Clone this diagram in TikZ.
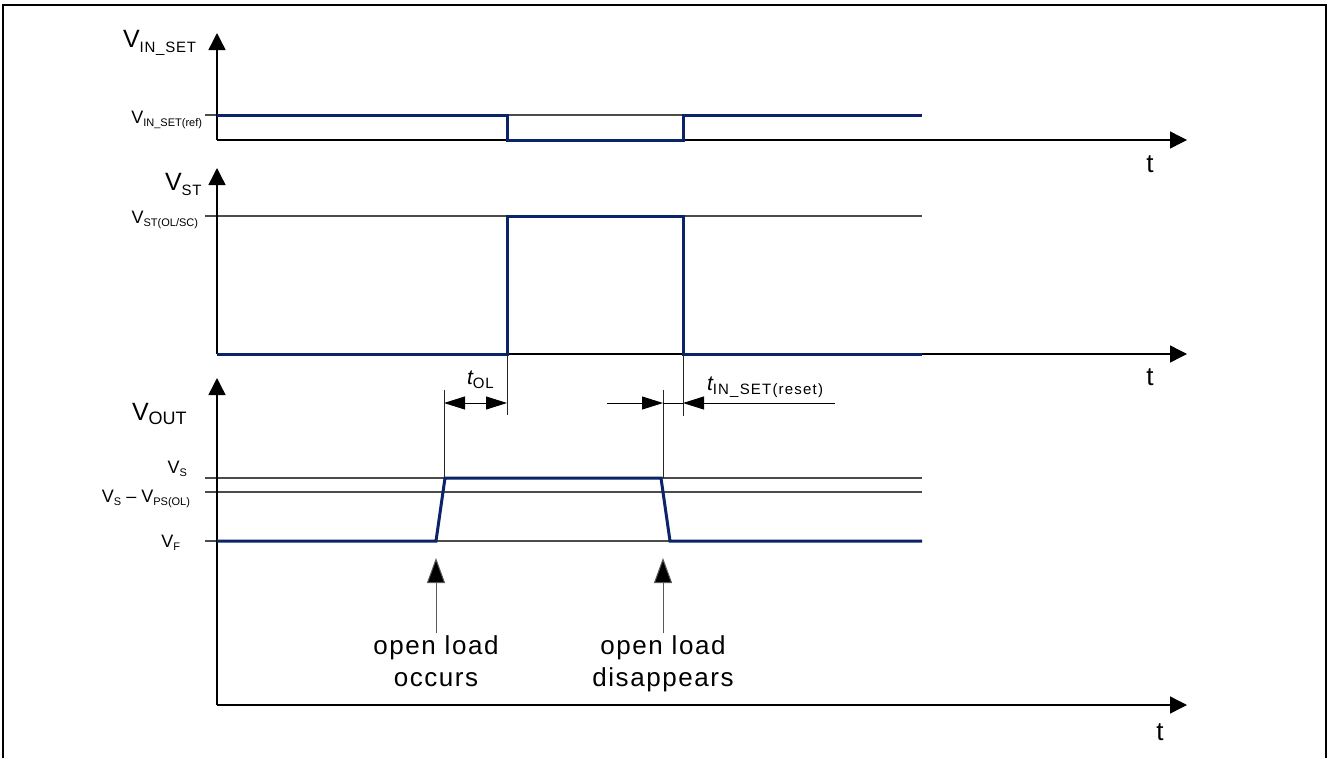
\documentclass[tikz,border=0pt]{standalone}
\usepackage{fontspec}
\setmainfont{Liberation Sans}
\usetikzlibrary{arrows.meta}
\definecolor{sig}{RGB}{10,35,105}
\definecolor{lvl}{RGB}{75,75,75}
\newcommand{\bigV}[1]{{\fontsize{25}{30}\selectfont V}{\fontsize{15}{18}\selectfont\addfontfeature{LetterSpace=5}\raisebox{-5pt}{#1}}}
\newcommand{\smV}[1]{{\fontsize{18}{21}\selectfont V}{\fontsize{11}{13}\selectfont\raisebox{-3pt}{#1}}}
\begin{document}
\begin{tikzpicture}[x=1pt,y=-1pt,
  axis/.style={line width=1.4pt,-{Triangle[length=17pt,width=17pt]}},
  level/.style={line width=1.3pt,draw=lvl},
  signal/.style={line width=3pt,draw=sig,line join=miter},
  dim/.style={line width=0.9pt,draw=black!85},
  dimtip/.style={line width=0.9pt,-{Triangle[length=21pt,width=13pt]}},
  evt/.style={line width=1pt,draw=black!65,-{Triangle[length=25pt,width=18pt,fill=black]}},
  lbl/.style={inner sep=0pt,outer sep=0pt},
  evtlbl/.style={inner sep=0pt,anchor=north,align=center,font=\fontsize{26}{32}\selectfont\addfontfeature{LetterSpace=6}},
  tlbl/.style={inner sep=0pt,anchor=base,font=\fontsize{26}{30}\selectfont}]
\useasboundingbox (0,0) rectangle (1328,758);
% frame
\draw[line width=1.5pt] (3,758) -- (3,5) -- (1326,5) -- (1326,758);

% ---------- chart 1: V_IN_SET ----------
\coordinate (o1) at (217,140);
\coordinate (y1) at (217,33);
\coordinate (x1) at (1187,140);
\coordinate (r1a) at (205,115);
\coordinate (r1b) at (922,115);
\draw[level] (r1a) -- (r1b);
\draw[axis] (o1) -- (y1);
\draw[axis] (o1) -- (x1);
\coordinate (s1a) at (217,115);
\coordinate (s1b) at (507,115);
\coordinate (s1c) at (507,140);
\coordinate (s1d) at (683,140);
\coordinate (s1e) at (683,115);
\draw[signal] (s1a) -- (s1b) -- (s1c) -- (s1d) -- (s1e) -- (r1b);
\node[lbl,anchor=base west] (lv1) at (123,47) {\bigV{IN\_SET}};
\node[lbl,anchor=base east] (lref) at (202,123) {\smV{IN\_SET(ref)}};
\node[tlbl] (t1) at (1150,172) {t};

% ---------- chart 2: V_ST ----------
\coordinate (o2) at (217,354);
\coordinate (y2) at (217,168);
\coordinate (x2) at (1187,354);
\coordinate (r2a) at (205,216);
\coordinate (r2b) at (922,216);
\draw[level] (r2a) -- (r2b);
\draw[axis] (o2) -- (y2);
\draw[axis] (o2) -- (x2);
\coordinate (s2b) at (507,354);
\coordinate (s2c) at (507,216);
\coordinate (s2d) at (683,216);
\coordinate (s2e) at (683,354);
\coordinate (s2f) at (922,354);
\draw[signal] (o2) -- (s2b) -- (s2c) -- (s2d) -- (s2e) -- (s2f);
\node[lbl,anchor=base west] (lv2) at (165,190) {\bigV{ST}};
\node[lbl,anchor=base east] (lst) at (198,223) {\smV{ST(OL/SC)}};
\node[tlbl] (t2) at (1150,385) {t};

% ---------- chart 3: V_OUT ----------
\coordinate (o3) at (217,705);
\coordinate (y3) at (217,378);
\coordinate (x3) at (1187,705);
\coordinate (vsa) at (205,478);
\coordinate (vsb) at (922,478);
\coordinate (vpa) at (205,492);
\coordinate (vpb) at (922,492);
\coordinate (vfa) at (205,541);
\coordinate (vfb) at (922,541);
\draw[level] (vsa) -- (vsb);
\draw[level] (vpa) -- (vpb);
\draw[level] (vfa) -- (vfb);
\draw[axis] (o3) -- (y3);
\draw[axis] (o3) -- (x3);
\coordinate (s3a) at (217,541);
\coordinate (s3b) at (436,541);
\coordinate (s3c) at (445,478);
\coordinate (s3d) at (661,478);
\coordinate (s3e) at (670,541);
\draw[signal] (s3a) -- (s3b) -- (s3c) -- (s3d) -- (s3e) -- (vfb);
\node[lbl,anchor=base west] (lv3) at (132,420) {{\fontsize{25}{30}\selectfont V}{\fontsize{18}{21}\selectfont\raisebox{-4pt}{OUT}}};
\node[lbl,anchor=base east] (lvs) at (187,473) {\smV{S}};
\node[lbl,anchor=base east] (lvp) at (190,502) {\smV{S}{\fontsize{18}{21}\selectfont\ --\ V}{\fontsize{11}{13}\selectfont\raisebox{-3pt}{PS(OL)}}};
\node[lbl,anchor=base east] (lvf) at (180,547) {\smV{F}};
\node[tlbl] (t3) at (1160,740) {t};

% ---------- dimensions ----------
\coordinate (d1t) at (444,390);
\coordinate (d1b) at (444,478);
\coordinate (d2t) at (507,354);
\coordinate (d2b) at (507,415);
\coordinate (d3t) at (663,390);
\coordinate (d3b) at (663,478);
\coordinate (d4t) at (683,354);
\coordinate (d4b) at (683,416);
\draw[dim] (d1t) -- (d1b);
\draw[dim] (d2t) -- (d2b);
\draw[dim] (d3t) -- (d3b);
\draw[dim] (d4t) -- (d4b);
\coordinate (a1) at (444,403);
\coordinate (a2) at (507,403);
\coordinate (a3) at (607,403);
\coordinate (a4) at (663,403);
\coordinate (a5) at (683,403);
\coordinate (a6) at (835,403);
\draw[line width=0.9pt,{Triangle[length=21pt,width=13pt]}-{Triangle[length=21pt,width=13pt]}] (a1) -- (a2);
\draw[dimtip] (a3) -- (a4);
\draw[line width=0.9pt] (a4) -- (a5);
\draw[dimtip] (a6) -- (a5);
\node[lbl,anchor=base west] (tol) at (467,384) {{\fontsize{21}{24}\selectfont\itshape t}{\fontsize{15}{18}\selectfont\addfontfeature{LetterSpace=6}\raisebox{-4pt}{OL}}};
\node[lbl,anchor=base west] (tin) at (707,390) {{\fontsize{21}{24}\selectfont\itshape t}{\fontsize{15}{18}\selectfont\addfontfeature{LetterSpace=8}\raisebox{-4pt}{IN\_SET(reset)}}};

% ---------- events ----------
\coordinate (e1b) at (436,633);
\coordinate (e1t) at (436,558);
\coordinate (e2b) at (663,633);
\coordinate (e2t) at (663,558);
\draw[evt] (e1b) -- (e1t);
\draw[evt] (e2b) -- (e2t);
\node[evtlbl] (occ) at (436,635) {open load\\occurs};
\node[evtlbl] (dis) at (663,635) {open load\\disappears};
\end{tikzpicture}
\end{document}
